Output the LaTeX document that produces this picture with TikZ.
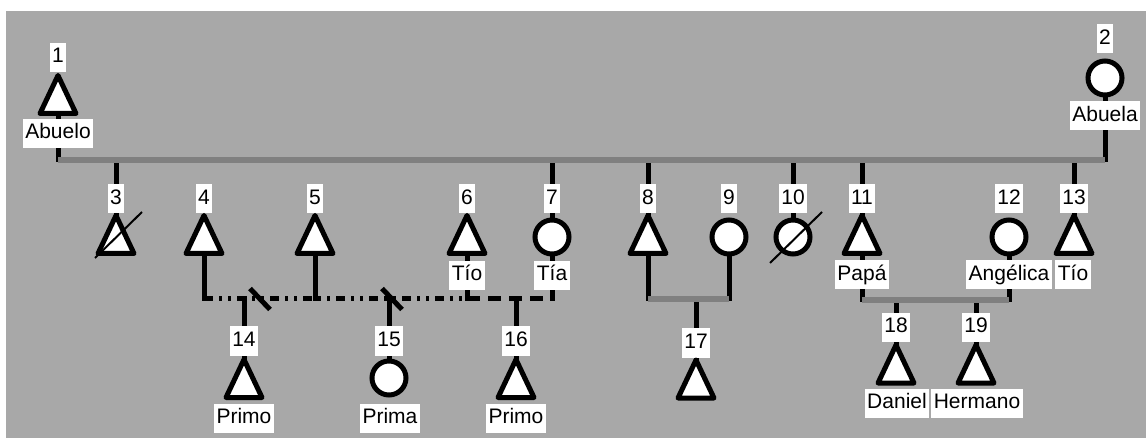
\documentclass[tikz,border=0pt]{standalone}
\usepackage{fontspec}
\setmainfont{Liberation Sans}
\usetikzlibrary{shapes.geometric,backgrounds}
\definecolor{panel}{HTML}{A8A8A8}
\definecolor{bond}{HTML}{808080}

\begin{document}
\begin{tikzpicture}[x=1pt, y=-1pt,
  tag/.style={fill=white, inner xsep=2.5pt, inner ysep=4.5pt, text height=15.5pt, text depth=4.5pt, font=\fontsize{21}{25}\selectfont},
  male/.style={isosceles triangle, isosceles triangle stretches, shape border rotate=90, minimum width=36pt, minimum height=38pt, inner sep=0pt, outer sep=0pt, draw, fill=white, line width=5pt, line join=round, anchor=apex},
  female/.style={circle, minimum size=34pt, inner sep=0pt, draw, fill=white, line width=5pt},
  link/.style={line width=5pt, line cap=rect},
  bondline/.style={line width=6pt, bond},
  cut/.style={line width=5pt},
  cross/.style={line width=2pt}]
\useasboundingbox (0,0) rectangle (1146,438);

% grandparents
\node[tag] (t1) at (58,57.5) {1};
\node[male] (p1) at (58,75.5) {};
\node[tag] (l1) at (58,133.5) {Abuelo};
\node[tag] (t2) at (1105,39) {2};
\node[female] (p2) at (1105,78) {};
\node[tag] (l2) at (1105,116) {Abuela};

% second generation
\foreach \n/\x in {3/116,4/204,5/315,6/467,7/552,8/648,9/729,10/793,11/862,12/1009,13/1074}
  \node[tag] (t\n) at (\x,199) {\n};
\foreach \n/\x in {3/116,4/204,5/315,6/467,8/648,11/862,13/1074}
  \node[male] (p\n) at (\x,215.5) {};
\foreach \n/\x in {7/552,9/729,10/793,12/1009}
  \node[female] (p\n) at (\x,237) {};
\node[tag] (l6) at (467,275.5) {Tío};
\node[tag] (l7) at (552,275.5) {Tía};
\node[tag] (l11) at (862,275) {Papá};
\node[tag] (l12) at (1009,275) {Angélica};
\node[tag] (l13) at (1073,275) {Tío};

% third generation
\node[tag] (t14) at (244,341) {14};
\node[male] (p14) at (244,359.5) {};
\node[tag] (l14) at (244,418) {Primo};
\node[tag] (t15) at (389,341) {15};
\node[female] (p15) at (389,378) {};
\node[tag] (l15) at (390,418) {Prima};
\node[tag] (t16) at (516,341) {16};
\node[male] (p16) at (516,359.5) {};
\node[tag] (l16) at (516,418) {Primo};
\node[tag] (t17) at (696,343) {17};
\node[male] (p17) at (696,360) {};
\node[tag] (t18) at (896,327.5) {18};
\node[male] (p18) at (896,345) {};
\node[tag] (l18) at (897,403) {Daniel};
\node[tag] (t19) at (976,327.5) {19};
\node[male] (p19) at (976,345) {};
\node[tag] (l19) at (977,403) {Hermano};

\coordinate (b1) at (58,160);
\coordinate (b2) at (1105,160);
\coordinate (u4) at (204,299);
\coordinate (u5) at (315,299);
\coordinate (u6) at (467,299);
\coordinate (u7) at (552,299);
\coordinate (u8) at (648,299);
\coordinate (u9) at (729,299);
\coordinate (u11) at (862,300);
\coordinate (u12) at (1009,300);

\begin{scope}[on background layer]
\fill[panel] (6,11) rectangle (1146,438);
\draw[link] (p1) -- (b1);
\draw[link] (p2) -- (b2);
\draw[link] (t3 |- b1) -- (p3);
\draw[link] (p4) -- (u4);
\draw[link] (p5) -- (u5);
\draw[link] (p6) -- (u6);
\draw[link] (t7 |- b1) -- (u7);
\draw[link] (t8 |- b1) -- (u8);
\draw[link] (p9) -- (u9);
\draw[link] (t10 |- b1) -- (p10);
\draw[link] (t11 |- b1) -- (u11);
\draw[link] (p12) -- (u12);
\draw[link] (t13 |- b1) -- (p13);
\draw[link, line cap=butt, dash pattern=on 9pt off 6pt on 3pt off 6pt on 3pt off 6pt] (u4) -- (u5) -- (u6);
\draw[link, line cap=butt, dash pattern=on 13pt off 8pt] (u6) -- (u7);
\draw[link] (t14 |- u4) -- (p14);
\draw[link] (t15 |- u4) -- (p15);
\draw[link] (t16 |- u4) -- (p16);
\draw[link] (t17 |- u8) -- (p17);
\draw[link] (t18 |- u11) -- (p18);
\draw[link] (t19 |- u11) -- (p19);
\draw[bondline] (b1) -- (b2);
\draw[bondline] (u8) -- (u9);
\draw[bondline] (u11) -- (u12);
\end{scope}

% separations and deaths
\draw[cut] (250,288.5) -- (270,309.5);
\draw[cut] (382,288.5) -- (402,309.5);
\draw[cross] (95,258) -- (142,212);
\draw[cross] (770,263) -- (822,212);
\end{tikzpicture}
\end{document}
